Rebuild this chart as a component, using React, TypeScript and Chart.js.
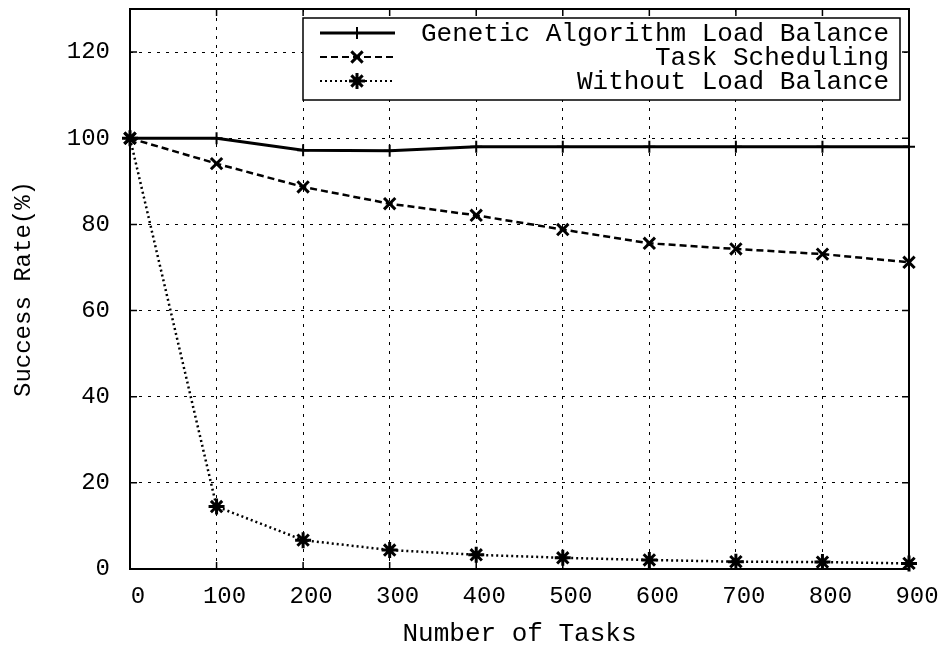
import React, { useEffect, useRef } from "react";
import { Chart, registerables } from "chart.js";

Chart.register(...registerables);

const taskCounts = [0, 100, 200, 300, 400, 500, 600, 700, 800, 900];
const geneticValues = [100, 100, 97.2, 97.1, 98, 98, 98, 98, 98, 98];
const schedulingValues = [100, 94.1, 88.7, 84.8, 82.1, 78.8, 75.6, 74.3, 73.1, 71.2];
const withoutValues = [100, 14.5, 6.7, 4.4, 3.3, 2.6, 2.1, 1.7, 1.6, 1.3];
const seriesLabels = [
  "Genetic Algorithm Load Balance",
  "Task Scheduling",
  "Without Load Balance",
];
const xTitle = "Number of Tasks";
const yTitle = "Success Rate(%)";

const FONT = "'Liberation Mono', 'DejaVu Sans Mono', monospace";

function drawMarker(ctx: CanvasRenderingContext2D, style: string, x: number, y: number, r: number) {
  ctx.beginPath();
  if (style === "cross" || style === "star") {
    ctx.moveTo(x - r, y);
    ctx.lineTo(x + r, y);
    ctx.moveTo(x, y - r);
    ctx.lineTo(x, y + r);
  }
  if (style === "crossRot" || style === "star") {
    const d = r * 0.7071;
    ctx.moveTo(x - d, y - d);
    ctx.lineTo(x + d, y + d);
    ctx.moveTo(x + d, y - d);
    ctx.lineTo(x - d, y + d);
  }
  ctx.stroke();
}

const framePlugin = {
  id: "frameAndLegend",
  afterDatasetsDraw(chart: any) {
    const ctx: CanvasRenderingContext2D = chart.ctx;
    const a = chart.chartArea;
    ctx.save();
    ctx.setLineDash([]);
    ctx.strokeStyle = "#000";
    ctx.lineWidth = 1.5;
    const xs = chart.scales.x;
    const ys = chart.scales.y;
    const tl = 7;
    ctx.beginPath();
    xs.ticks.forEach((t: any) => {
      const px = xs.getPixelForValue(t.value);
      ctx.moveTo(px, a.bottom);
      ctx.lineTo(px, a.bottom - tl);
      ctx.moveTo(px, a.top);
      ctx.lineTo(px, a.top + tl);
    });
    ys.ticks.forEach((t: any) => {
      const py = ys.getPixelForValue(t.value);
      ctx.moveTo(a.left, py);
      ctx.lineTo(a.left + tl, py);
      ctx.moveTo(a.right, py);
      ctx.lineTo(a.right - tl, py);
    });
    ctx.stroke();
    ctx.lineWidth = 2;
    ctx.strokeRect(a.left, a.top, a.right - a.left, a.bottom - a.top);

    const bx = 303, by = 18, bw = 597, bh = 82;
    ctx.fillStyle = "#fff";
    ctx.fillRect(bx, by, bw, bh);
    ctx.lineWidth = 1.5;
    ctx.strokeRect(bx, by, bw, bh);
    const rows = [33, 57, 81];
    chart.data.datasets.forEach((ds: any, i: number) => {
      const y = rows[i];
      ctx.strokeStyle = "#000";
      ctx.lineWidth = i === 0 ? ds.borderWidth : 2;
      ctx.setLineDash(ds.borderDash || []);
      ctx.beginPath();
      ctx.moveTo(320, y);
      ctx.lineTo(395, y);
      ctx.stroke();
      ctx.setLineDash([]);
      ctx.lineWidth = ds.pointBorderWidth;
      drawMarker(ctx, ds.pointStyle, 357, y, ds.pointRadius);
      ctx.fillStyle = "#000";
      ctx.font = `26px ${FONT}`;
      ctx.textAlign = "right";
      ctx.textBaseline = "middle";
      ctx.fillText(ds.label, 889, y + 1);
    });
    ctx.restore();
  },
};

export default function App() {
  const ref = useRef<HTMLCanvasElement | null>(null);

  useEffect(() => {
    if (!ref.current) return;
    const mk = (vals: number[]) => taskCounts.map((x, i) => ({ x, y: vals[i] }));
    const chart = new Chart(ref.current, {
      type: "line",
      data: {
        datasets: [
          {
            label: seriesLabels[0],
            data: mk(geneticValues),
            borderColor: "#000",
            backgroundColor: "#000",
            borderWidth: 3,
            borderDash: [],
            pointStyle: "cross",
            pointRadius: 6,
            pointBorderWidth: 2,
            pointBorderColor: "#000",
            clip: false,
          },
          {
            label: seriesLabels[1],
            data: mk(schedulingValues),
            borderColor: "#000",
            backgroundColor: "#000",
            borderWidth: 2.5,
            borderDash: [7, 4],
            pointStyle: "crossRot",
            pointRadius: 8,
            pointBorderWidth: 3,
            pointBorderColor: "#000",
            clip: false,
          },
          {
            label: seriesLabels[2],
            data: mk(withoutValues),
            borderColor: "#000",
            backgroundColor: "#000",
            borderWidth: 2.5,
            borderDash: [2, 3],
            pointStyle: "star",
            pointRadius: 8,
            pointBorderWidth: 3,
            pointBorderColor: "#000",
            clip: false,
          },
        ] as any,
      },
      options: {
        animation: false,
        responsive: true,
        maintainAspectRatio: false,
        layout: { autoPadding: false, padding: { left: 0, top: 9, right: 34, bottom: 0 } },
        plugins: { legend: { display: false }, tooltip: { enabled: false } },
        scales: {
          x: {
            type: "linear",
            min: 0,
            max: 900,
            afterFit: (s: any) => {
              s.height = 78;
              s.paddingLeft = 0;
              s.paddingRight = 0;
            },
            ticks: {
              stepSize: 100,
              color: "#000",
              padding: 13,
              labelOffset: 8,
              maxRotation: 0,
              font: { family: FONT, size: 24 },
            },
            grid: { color: "#000", lineWidth: 1, drawTicks: false },
            border: { display: false, dash: [3, 6] },
            title: {
              display: true,
              text: xTitle,
              color: "#000",
              font: { family: FONT, size: 26, lineHeight: 1 },
              padding: { top: 0, bottom: 0 },
            },
          },
          y: {
            type: "linear",
            min: 0,
            max: 130,
            afterFit: (s: any) => {
              s.width = 130;
              s.paddingTop = 0;
              s.paddingBottom = 0;
            },
            ticks: {
              stepSize: 20,
              includeBounds: false,
              color: "#000",
              padding: 20,
              font: { family: FONT, size: 24 },
            },
            grid: { color: "#000", lineWidth: 1, drawTicks: false },
            border: { display: false, dash: [3, 6] },
            title: {
              display: true,
              text: yTitle,
              color: "#000",
              font: { family: FONT, size: 24, lineHeight: 1.2 },
              padding: { top: 9, bottom: 0 },
            },
          },
        },
      } as any,
      plugins: [framePlugin],
    });
    return () => chart.destroy();
  }, []);

  return (
    <div
      style={{
        position: "fixed",
        left: 0,
        top: 0,
        width: 943,
        height: 647,
        background: "#fff",
      }}
    >
      <canvas ref={ref} />
    </div>
  );
}
